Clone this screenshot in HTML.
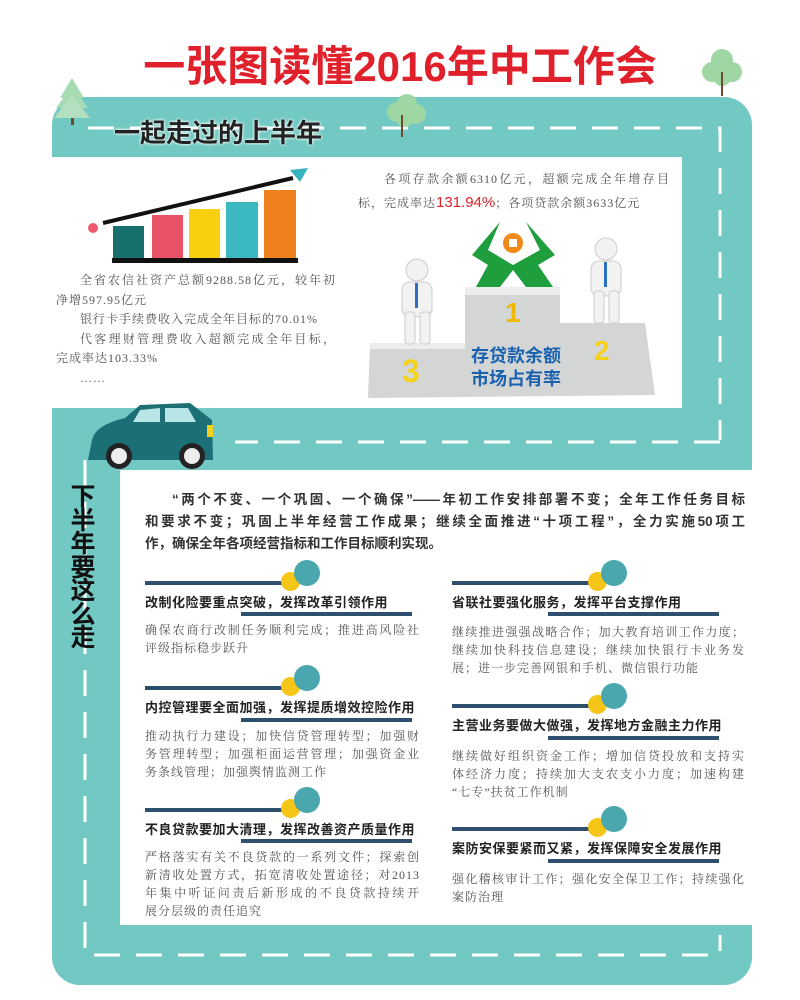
<!DOCTYPE html>
<html><head><meta charset="utf-8"><style>
*{margin:0;padding:0;box-sizing:border-box}
body{width:800px;height:1000px;position:relative;background:#fff;overflow:hidden;font-family:"Liberation Sans","Noto Sans CJK SC",sans-serif;color:#333}
.a{position:absolute}
.t{font-family:"Liberation Serif","Noto Serif CJK SC",serif;font-size:12px;color:#555;letter-spacing:1px;line-height:18px}
.h{font-size:13px;font-weight:bold;color:#222;white-space:nowrap;letter-spacing:0.5px}
.bar{height:4px;background:#2f4f6f}
.cy{width:19px;height:19px;border-radius:50%;background:#f5c518}
.ct{width:26px;height:26px;border-radius:50%;background:#4aa7ad}
.j{text-align:justify;text-align-last:justify;white-space:nowrap}
</style></head><body>
<div class="a" style="left:52px;top:97px;width:700px;height:373px;background:#72c9c3;border-radius:28px"></div>
<div class="a" style="left:52px;top:408px;width:700px;height:577px;background:#72c9c3;border-radius:28px"></div>
<div class="a" style="left:0;top:157px;width:682px;height:251px;background:#fff"></div>
<div class="a" style="left:120px;top:470px;width:680px;height:455px;background:#fff"></div>
<svg class="a" style="left:0;top:0" width="800" height="1000">
<g stroke="#fff" stroke-width="3" fill="none" stroke-dasharray="26 16">
<path d="M88 128 H720 V440"/>
<path d="M720 442 H235"/>
<path d="M85 460 V955 H720 V935"/>
</g>
<g><rect x="71" y="100" width="3" height="25" fill="#6b4b2b"/><polygon points="72,78 60,98 84,98" fill="#a6dbb4"/><polygon points="72,86 56,108 88,108" fill="#a6dbb4"/><polygon points="72,95 54,118 90,118" fill="#b3e0bf"/></g>
<g><circle cx="397" cy="112" r="10" fill="#9ed7a4"/><circle cx="407" cy="104" r="10" fill="#9ed7a4"/><circle cx="416" cy="114" r="10" fill="#9ed7a4"/><circle cx="405" cy="118" r="9" fill="#9ed7a4"/><rect x="401" y="115" width="2" height="22" fill="#6b4b2b"/></g>
<g><circle cx="712" cy="72" r="10" fill="#9ed7a4"/><circle cx="722" cy="60" r="11" fill="#9ed7a4"/><circle cx="732" cy="72" r="10" fill="#9ed7a4"/><circle cx="722" cy="77" r="9" fill="#9ed7a4"/><rect x="721" y="72" width="2" height="24" fill="#6b4b2b"/></g>
<circle cx="93" cy="228" r="5" fill="#ee5a6c"/>
<rect x="113" y="226" width="31" height="33" fill="#17706b"/>
<rect x="152" y="215" width="31" height="44" fill="#ea5268"/>
<rect x="189" y="209" width="31" height="50" fill="#f8d00e"/>
<rect x="226" y="202" width="32" height="57" fill="#3cb9c0"/>
<rect x="264" y="190" width="32" height="69" fill="#f07f1d"/>
<rect x="112" y="258" width="186" height="5" fill="#111"/>
<line x1="103" y1="223" x2="293" y2="178" stroke="#111" stroke-width="4"/>
<polygon points="290,170 308,168 300,182" fill="#36b3bf"/>
<polygon points="370,345 465,345 465,287 560,287 560,323 645,323 655,395 368,398" fill="#d4d6d6"/>
<rect x="465" y="287" width="95" height="8" fill="#eceded"/>
<rect x="370" y="343" width="95" height="6" fill="#eceded"/>
<text x="505" y="322" font-size="28" font-weight="bold" fill="#f0b800" font-family="Liberation Sans">1</text>
<text x="594" y="360" font-size="28" font-weight="bold" fill="#f5d21a" font-family="Liberation Sans">2</text>
<text x="402" y="382" font-size="32" font-weight="bold" fill="#f5d21a" font-family="Liberation Sans">3</text>
<path d="M500 222 L472 255 L488 265 L476 287 L500 287 L513 270 L526 287 L553 287 L538 265 L555 255 L526 222 L540 250 L513 265 L488 250 Z" fill="#1f9e3e"/>
<circle cx="513" cy="243" r="10" fill="#f08a1a"/><rect x="509" y="239" width="8" height="8" fill="#fff"/>
<g fill="#f2f2f2" stroke="#ccc"><circle cx="417" cy="270" r="11"/><rect x="402" y="282" width="30" height="35" rx="8"/><rect x="405" y="312" width="10" height="32" rx="3"/><rect x="420" y="312" width="10" height="32" rx="3"/>
<circle cx="606" cy="249" r="11"/><rect x="591" y="261" width="30" height="35" rx="8"/><rect x="594" y="291" width="10" height="32" rx="3"/><rect x="609" y="291" width="10" height="32" rx="3"/></g>
<rect x="415" y="283" width="3" height="25" fill="#2f6fc0"/><rect x="604" y="262" width="3" height="25" fill="#2f6fc0"/>
<g>
<path d="M92 440 Q95 425 125 418 L140 405 L190 403 L212 420 L213 460 L88 460 Z" fill="#1d6f76"/>
<path d="M140 410 L160 408 L160 422 L133 422 Z" fill="#b9e5e6"/><path d="M165 408 L188 408 L196 422 L165 422 Z" fill="#b9e5e6"/>
<rect x="207" y="425" width="6" height="12" fill="#f5d21a"/>
<circle cx="119" cy="456" r="13" fill="#222"/><circle cx="119" cy="456" r="8" fill="#eee"/>
<circle cx="192" cy="456" r="13" fill="#222"/><circle cx="192" cy="456" r="8" fill="#eee"/>
</g>
</svg>
<div class="a" style="left:0;top:33px;width:800px;text-align:center;font-size:42px;font-weight:bold;color:#e0212b;letter-spacing:0px">一张图读懂2016年中工作会</div>
<div class="a" style="left:114px;top:113px;font-size:26px;font-weight:bold;color:#222;text-shadow:0 0 2px #fff,0 0 3px #fff">一起走过的上半年</div>
<div class="a t" style="left:56px;top:271px;width:280px;line-height:19.5px">
<div class="j" style="padding-left:24px">全省农信社资产总额9288.58亿元，较年初</div>
<div>净增597.95亿元</div>
<div style="padding-left:24px">银行卡手续费收入完成全年目标的70.01%</div>
<div class="j" style="padding-left:24px">代客理财管理费收入超额完成全年目标，</div>
<div>完成率达103.33%</div>
<div style="padding-left:24px">……</div></div>
<div class="a t" style="left:358px;top:167px;width:312px;line-height:24px">
<div class="j" style="padding-left:26px">各项存款余额6310亿元，超额完成全年增存目</div>
<div>标，完成率达<span style="color:#e0212b;font-family:'Liberation Sans';font-size:15px;letter-spacing:0">131.94%</span>；各项贷款余额3633亿元</div></div>
<div class="a" style="left:456px;top:345px;width:120px;text-align:center;font-size:18px;font-weight:bold;color:#1a62b0;line-height:23px">存贷款余额<br>市场占有率</div>
<div class="a" style="left:70px;top:486px;width:26px;font-size:25px;font-weight:bold;color:#111;line-height:23.5px;text-align:center">下半年要这么走</div>
<div class="a" style="left:145px;top:489px;width:600px;font-size:13.5px;font-weight:bold;color:#333;line-height:22px">
<div class="j" style="padding-left:27px">“两个不变、一个巩固、一个确保”——年初工作安排部署不变；全年工作任务目标</div>
<div class="j">和要求不变；巩固上半年经营工作成果；继续全面推进“十项工程”，全力实施50项工</div>
<div>作，确保全年各项经营指标和工作目标顺利实现。</div></div>

<div class="a bar" style="left:145px;top:581px;width:142px"></div><div class="a cy" style="left:281px;top:572px"></div><div class="a ct" style="left:294px;top:560px"></div>
<div class="a h" style="left:145px;top:592px">改制化险要重点突破，发挥改革引领作用</div>
<div class="a bar" style="left:241px;top:612px;width:171px"></div>
<div class="a t" style="left:145px;top:621px;width:275px"><div class="j">确保农商行改制任务顺利完成；推进高风险社</div><div>评级指标稳步跃升</div></div>

<div class="a bar" style="left:145px;top:686px;width:142px"></div><div class="a cy" style="left:281px;top:677px"></div><div class="a ct" style="left:294px;top:665px"></div>
<div class="a h" style="left:145px;top:697px">内控管理要全面加强，发挥提质增效控险作用</div>
<div class="a bar" style="left:241px;top:718px;width:171px"></div>
<div class="a t" style="left:145px;top:727px;width:275px"><div class="j">推动执行力建设；加快信贷管理转型；加强财</div><div class="j">务管理转型；加强柜面运营管理；加强资金业</div><div>务条线管理；加强舆情监测工作</div></div>

<div class="a bar" style="left:145px;top:808px;width:142px"></div><div class="a cy" style="left:281px;top:799px"></div><div class="a ct" style="left:294px;top:787px"></div>
<div class="a h" style="left:145px;top:819px">不良贷款要加大清理，发挥改善资产质量作用</div>
<div class="a bar" style="left:241px;top:839px;width:171px"></div>
<div class="a t" style="left:145px;top:848px;width:275px"><div class="j">严格落实有关不良贷款的一系列文件；探索创</div><div class="j">新清收处置方式，拓宽清收处置途径；对2013</div><div class="j">年集中听证问责后新形成的不良贷款持续开</div><div>展分层级的责任追究</div></div>

<div class="a bar" style="left:452px;top:581px;width:142px"></div><div class="a cy" style="left:588px;top:572px"></div><div class="a ct" style="left:601px;top:560px"></div>
<div class="a h" style="left:452px;top:592px">省联社要强化服务，发挥平台支撑作用</div>
<div class="a bar" style="left:548px;top:612px;width:171px"></div>
<div class="a t" style="left:452px;top:623px;width:293px"><div class="j">继续推进强强战略合作；加大教育培训工作力度；</div><div class="j">继续加快科技信息建设；继续加快银行卡业务发</div><div>展；进一步完善网银和手机、微信银行功能</div></div>

<div class="a bar" style="left:452px;top:704px;width:142px"></div><div class="a cy" style="left:588px;top:695px"></div><div class="a ct" style="left:601px;top:683px"></div>
<div class="a h" style="left:452px;top:715px">主营业务要做大做强，发挥地方金融主力作用</div>
<div class="a bar" style="left:548px;top:736px;width:171px"></div>
<div class="a t" style="left:452px;top:747px;width:293px"><div class="j">继续做好组织资金工作；增加信贷投放和支持实</div><div class="j">体经济力度；持续加大支农支小力度；加速构建</div><div>“七专”扶贫工作机制</div></div>

<div class="a bar" style="left:452px;top:827px;width:142px"></div><div class="a cy" style="left:588px;top:818px"></div><div class="a ct" style="left:601px;top:806px"></div>
<div class="a h" style="left:452px;top:838px">案防安保要紧而又紧，发挥保障安全发展作用</div>
<div class="a bar" style="left:548px;top:859px;width:171px"></div>
<div class="a t" style="left:452px;top:870px;width:293px"><div class="j">强化稽核审计工作；强化安全保卫工作；持续强化</div><div>案防治理</div></div>
</body></html>
